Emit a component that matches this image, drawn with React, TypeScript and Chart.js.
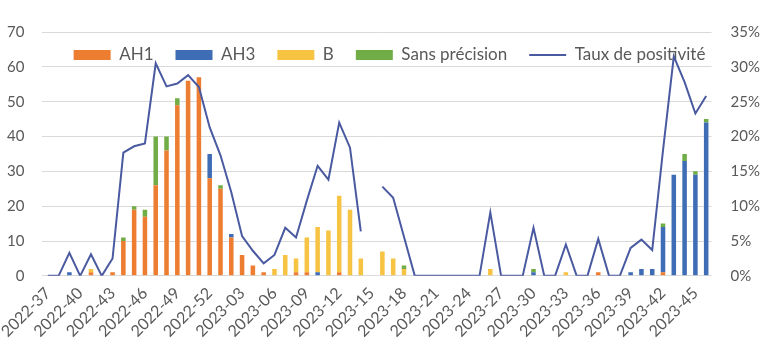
import React, { useEffect, useRef } from 'react';
import { Chart, registerables } from 'chart.js';

Chart.register(...registerables);

const weeks = [
  '2022-37', '2022-38', '2022-39', '2022-40', '2022-41', '2022-42', '2022-43', '2022-44',
  '2022-45', '2022-46', '2022-47', '2022-48', '2022-49', '2022-50', '2022-51', '2022-52',
  '2023-01', '2023-02', '2023-03', '2023-04', '2023-05', '2023-06', '2023-07', '2023-08',
  '2023-09', '2023-10', '2023-11', '2023-12', '2023-13', '2023-14', '2023-15', '2023-16',
  '2023-17', '2023-18', '2023-19', '2023-20', '2023-21', '2023-22', '2023-23', '2023-24',
  '2023-25', '2023-26', '2023-27', '2023-28', '2023-29', '2023-30', '2023-31', '2023-32',
  '2023-33', '2023-34', '2023-35', '2023-36', '2023-37', '2023-38', '2023-39', '2023-40',
  '2023-41', '2023-42', '2023-43', '2023-44', '2023-45', '2023-46',
];

const shownTickLabels = [
  '2022-37', '2022-40', '2022-43', '2022-46', '2022-49', '2022-52', '2023-03', '2023-06',
  '2023-09', '2023-12', '2023-15', '2023-18', '2023-21', '2023-24', '2023-27', '2023-30',
  '2023-33', '2023-36', '2023-39', '2023-42', '2023-45',
];

const ah1 = [
  0, 0, 0, 0, 1, 0, 1, 10, 19, 17, 26, 36, 49, 56, 57, 28,
  25, 11, 6, 3, 1, 0, 0, 1, 1, 0, 0, 1, 0, 0, 0, 0,
  0, 0, 0, 0, 0, 0, 0, 0, 0, 0, 0, 0, 0, 0, 0, 0,
  0, 0, 0, 1, 0, 0, 0, 0, 0, 1, 0, 0, 0, 0,
];

const ah3 = [
  0, 0, 1, 0, 0, 0, 0, 0, 0, 0, 0, 0, 0, 0, 0, 7,
  0, 1, 0, 0, 0, 0, 0, 0, 0, 1, 0, 0, 0, 0, 0, 0,
  0, 0, 0, 0, 0, 0, 0, 0, 0, 0, 0, 0, 0, 1, 0, 0,
  0, 0, 0, 0, 0, 0, 1, 2, 2, 13, 29, 33, 29, 44,
];

const bValues = [
  0, 0, 0, 0, 1, 0, 0, 0, 0, 0, 0, 0, 0, 0, 0, 0,
  0, 0, 0, 0, 0, 2, 6, 4, 10, 13, 13, 22, 19, 5, 0, 7,
  5, 2, 0, 0, 0, 0, 0, 0, 0, 2, 0, 0, 0, 0, 0, 0,
  1, 0, 0, 0, 0, 0, 0, 0, 0, 0, 0, 0, 0, 0,
];

const sansPrecision = [
  0, 0, 0, 0, 0, 0, 0, 1, 1, 2, 14, 4, 2, 0, 0, 0,
  1, 0, 0, 0, 0, 0, 0, 0, 0, 0, 0, 0, 0, 0, 0, 0,
  0, 1, 0, 0, 0, 0, 0, 0, 0, 0, 0, 0, 0, 1, 0, 0,
  0, 0, 0, 0, 0, 0, 0, 0, 0, 1, 0, 2, 1, 1,
];

const tauxPositivite: (number | null)[] = [
  0, 0, 3.3, 0, 3.1, 0, 2.5, 17.7, 18.6, 19.0, 30.5, 27.2, 27.6, 28.8, 27.1, 21.3,
  17.3, 12.0, 5.7, 3.6, 1.8, 3.0, 6.9, 5.5, 10.8, 15.8, 13.8, 22.0, 18.4, 6.4, null, 12.8,
  11.2, 5.6, 0, 0, 0, 0, 0, 0, 0, 9.1, 0, 0, 0, 6.9, 0, 0,
  4.5, 0, 0, 5.3, 0, 0, 4.0, 5.2, 3.7, 18.0, 31.5, 27.8, 23.3, 25.8,
];

const TEXT = '#595959';
const GRID = '#D9D9D9';
const FONT = 'Lato';
const LEGEND_CENTER_Y = 55;
const Y_TICK_PAD = 18;
const Y1_TICK_PAD = 19;

const legendInside = {
  id: 'legendInside',
  beforeLayout(chart: any) {
    const lg = chart.legend;
    if (lg && !lg._insidePatched) {
      const origFit = lg.fit.bind(lg);
      lg.fit = function () {
        origFit();
        this._realHeight = this.height;
        this.height = 0;
      };
      lg._insidePatched = true;
    }
  },
  afterLayout(chart: any) {
    const lg = chart.legend;
    if (!lg) return;
    const pad = lg.options.labels.padding;
    const fs = lg.options.labels.font.size;
    lg.top = LEGEND_CENTER_Y - pad - fs / 2;
    lg.bottom = lg.top + (lg._realHeight || 40);
    lg.left += 6;
    lg.right += 6;
  },
};

export default function App() {
  const ref = useRef<HTMLCanvasElement>(null);

  useEffect(() => {
    if (!ref.current) return;
    const barCommon = {
      barPercentage: 0.42,
      categoryPercentage: 1.0,
      borderWidth: 0,
      pointStyle: 'rect',
      order: 1,
      yAxisID: 'y',
      stack: 'virus',
    };
    const chart = new Chart(ref.current, {
      type: 'bar',
      data: {
        labels: weeks,
        datasets: [
          { ...barCommon, label: 'AH1', data: ah1, backgroundColor: '#ED7D31' },
          { ...barCommon, label: 'AH3', data: ah3, backgroundColor: '#3F6DB5' },
          { ...barCommon, label: 'B', data: bValues, backgroundColor: '#F7C342' },
          { ...barCommon, label: 'Sans précision', data: sansPrecision, backgroundColor: '#70AD47' },
          {
            type: 'line',
            label: 'Taux de positivité',
            data: tauxPositivite,
            yAxisID: 'y1',
            order: 0,
            borderColor: '#4A5AA0',
            backgroundColor: '#4A5AA0',
            borderWidth: 2,
            pointRadius: 0,
            pointHoverRadius: 0,
            pointBorderWidth: 2,
            pointStyle: 'line',
            tension: 0,
            fill: false,
            spanGaps: false,
          } as any,
        ],
      },
      options: {
        animation: false,
        responsive: true,
        maintainAspectRatio: false,
        layout: { padding: { top: 32, left: 7, right: 8, bottom: 9 } },
        plugins: {
          tooltip: { enabled: false },
          legend: {
            display: true,
            position: 'top',
            align: 'center',
            labels: {
              usePointStyle: true,
              pointStyleWidth: 37,
              boxHeight: 10,
              padding: 22,
              color: TEXT,
              font: { family: FONT, size: 17 },
              sort: (a: any, b: any) => a.datasetIndex - b.datasetIndex,
            },
          },
        },
        scales: {
          x: {
            stacked: true,
            offset: true,
            grid: { display: false, drawTicks: false },
            border: { display: false },
            afterFit: (axis: any) => {
              axis.paddingLeft = 0;
              axis.paddingRight = 0;
            },
            ticks: {
              autoSkip: false,
              minRotation: 45,
              maxRotation: 45,
              padding: 8,
              color: TEXT,
              font: { family: FONT, size: 16 },
              callback: (_v: any, i: number) =>
                shownTickLabels.includes(weeks[i]) ? weeks[i] : '',
            },
          },
          y: {
            stacked: true,
            min: 0,
            max: 70,
            grid: { color: GRID, lineWidth: 1, drawTicks: false },
            border: { display: false },
            afterFit: (axis: any) => {
              axis.width = axis.width - Y_TICK_PAD;
            },
            ticks: {
              stepSize: 10,
              padding: Y_TICK_PAD,
              color: TEXT,
              font: { family: FONT, size: 15 },
            },
          },
          y1: {
            position: 'right',
            min: 0,
            max: 35,
            grid: { display: false, drawTicks: false },
            border: { display: false },
            afterFit: (axis: any) => {
              axis.width = axis.width - Y1_TICK_PAD;
            },
            ticks: {
              stepSize: 5,
              padding: Y1_TICK_PAD,
              color: TEXT,
              font: { family: FONT, size: 15 },
              callback: (v: any) => `${v}%`,
            },
          },
        },
      },
      plugins: [legendInside],
    } as any);
    return () => chart.destroy();
  }, []);

  return (
    <div style={{ position: 'absolute', left: 0, top: 0, width: 768, height: 358 }}>
      <canvas ref={ref} />
    </div>
  );
}
